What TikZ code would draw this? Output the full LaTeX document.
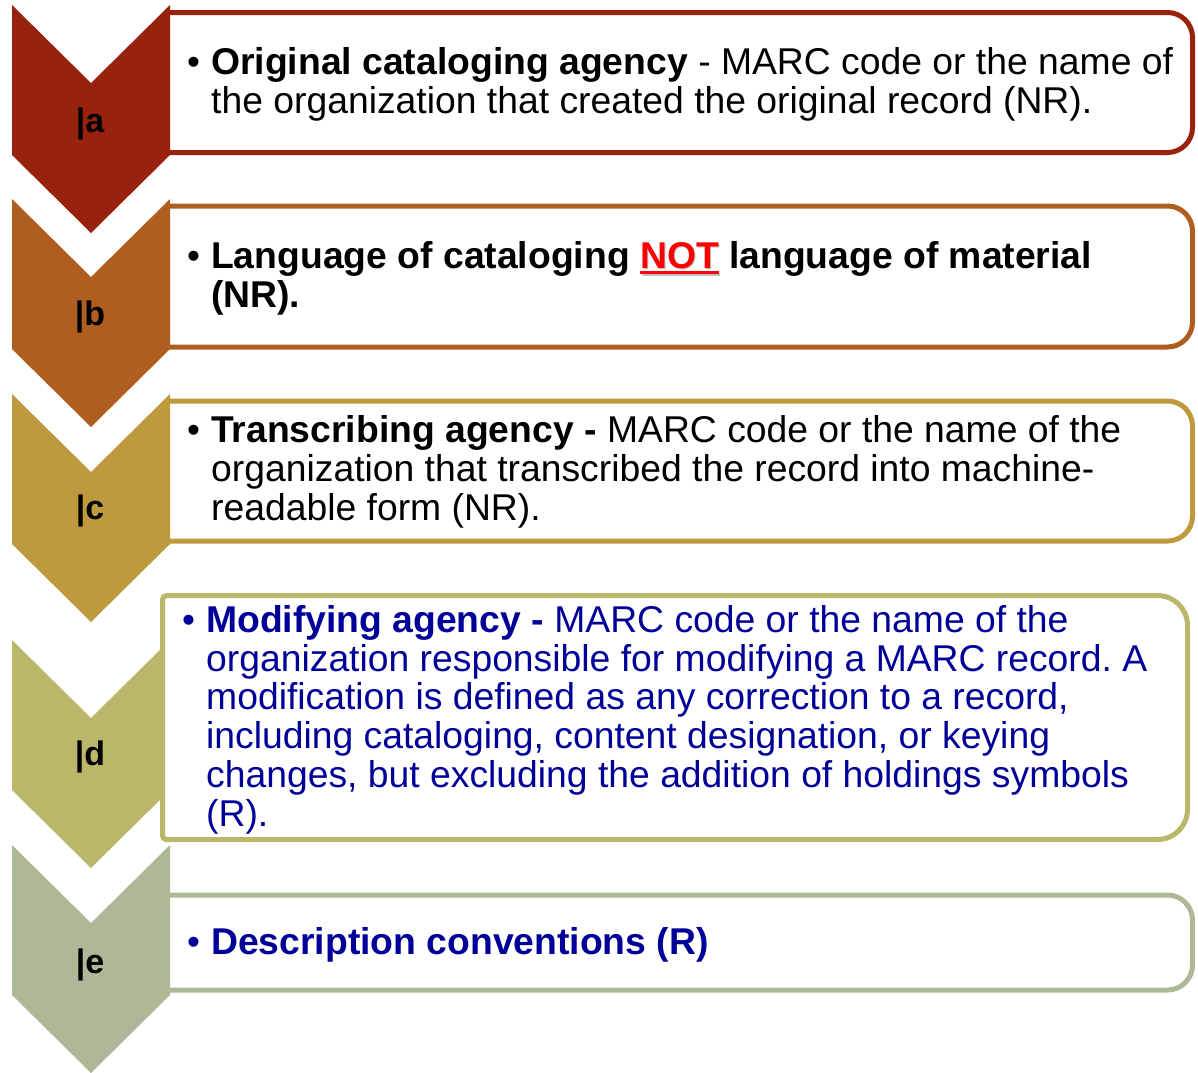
\documentclass[tikz,border=0pt]{standalone}
\usepackage{fontspec}
\setmainfont{Liberation Sans}
\frenchspacing
\definecolor{ca}{RGB}{153,34,14}
\definecolor{cb}{RGB}{176,94,32}
\definecolor{cc}{RGB}{190,153,61}
\definecolor{cd}{RGB}{187,183,106}
\definecolor{ce}{RGB}{173,184,150}
\definecolor{navy}{RGB}{0,0,153}
\newcommand\ulshadow[1]{\setbox0\hbox{#1}%
  \rlap{\kern1.5pt\raisebox{-1.5pt}{\color{black!25}\rlap{#1}\raisebox{-6pt}{\rule{\wd0}{3pt}}}}%
  \rlap{\raisebox{-6pt}{\rule{\wd0}{3pt}}}#1}
\begin{document}
\begin{tikzpicture}[x=1pt,y=-1pt,
  boxline/.style={line width=5pt,fill=white,rounded corners=25pt},
  txt/.style={anchor=base west,inner sep=0pt,font=\fontsize{37.3}{39}\selectfont\frenchspacing},
  bul/.style={anchor=base west,inner sep=0pt,font=\fontsize{37}{39}\selectfont},
  lbl/.style={anchor=base,inner sep=0pt,font=\fontsize{34}{36}\selectfont\bfseries}]
\useasboundingbox (0,0) rectangle (1198,1072);
% boxes
\draw[boxline,draw=ca] (170,12.5) -- (1192.5,12.5) -- (1192.5,152.5) -- (170,152.5);
\draw[boxline,draw=cb] (170,206) -- (1192.5,206) -- (1192.5,347) -- (170,347);
\draw[boxline,draw=cc] (170,401) -- (1192.5,401) -- (1192.5,541) -- (170,541);
\draw[boxline,draw=ce] (170,895) -- (1192.5,895) -- (1192.5,990) -- (170,990);
% chevrons
\newcommand\chev[2]{\fill[#1] (12,#2) -- (91,#2+78) -- (170,#2) -- (170,#2+150) -- (91,#2+228) -- (12,#2+150) -- cycle;}
\chev{ca}{5}
\chev{cb}{199}
\chev{cc}{394}
\chev{cd}{640}
\chev{ce}{845}
% box d on top
\draw[line width=5pt,fill=white,draw=cd] (162.5,700) [rounded corners=4pt] -- (162.5,595.5) [rounded corners=30pt] -- (1187.5,595.5) -- (1187.5,839.5) [rounded corners=4pt] -- (162.5,839.5) -- cycle;
% labels
\node[lbl] (la) at (90,132) {|a};
\node[lbl] (lb) at (90,325) {|b};
\node[lbl] (lc) at (90,519) {|c};
\node[lbl] (ld) at (90,765) {|d};
\node[lbl] (le) at (90,973) {|e};
% row a
\node[bul] (ba) at (187,74) {•};
\node[txt] (a1) at (211,74) {\textbf{Original cataloging agency} - MARC code or the name of};
\node[txt] (a2) at (211,113) {the organization that created the original record (NR).};
% row b
\node[bul] (bb) at (187,268) {•};
\node[txt] (b1) at (211,268) {\textbf{Language of cataloging \textcolor{red}{\ulshadow{NOT}} language of material}};
\node[txt] (b2) at (211,307) {\textbf{(NR).}};
% row c
\node[bul] (bc) at (187,442) {•};
\node[txt] (c1) at (211,442) {\textbf{Transcribing agency -} MARC code or the name of the};
\node[txt] (c2) at (211,481) {organization that transcribed the record into machine-};
\node[txt] (c3) at (211,520) {readable form (NR).};
% row d
\begin{scope}[every node/.append style={text=navy}]
\node[bul] (bd) at (182,632) {•};
\node[txt] (d1) at (206,632) {\textbf{Modifying agency -} MARC code or the name of the};
\node[txt] (d2) at (206,671) {organization responsible for modifying a MARC record. A};
\node[txt] (d3) at (206,709) {modification is defined as any correction to a record,};
\node[txt] (d4) at (206,748) {including cataloging, content designation, or keying};
\node[txt] (d5) at (206,787) {changes, but excluding the addition of holdings symbols};
\node[txt] (d6) at (206,826) {(R).};
% row e
\node[bul] (be) at (187,954) {•};
\node[txt] (e1) at (211,954) {\textbf{Description conventions (R)}};
\end{scope}
\end{tikzpicture}
\end{document}
